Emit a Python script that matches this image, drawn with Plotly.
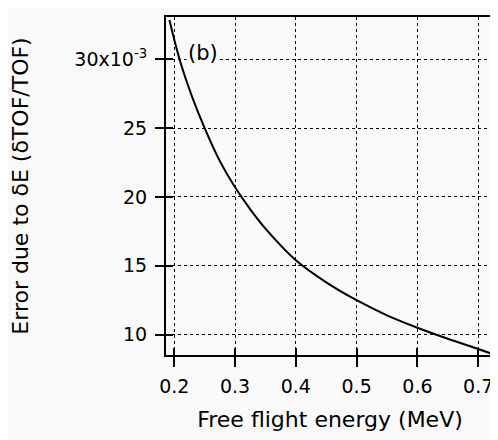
import plotly.graph_objects as go

energy = [0.192, 0.21, 0.23, 0.25, 0.275, 0.30, 0.325, 0.35, 0.40, 0.45, 0.50, 0.55, 0.60, 0.65, 0.70, 0.72]
error = [0.03285, 0.0298, 0.0272, 0.0250, 0.0226, 0.0207, 0.0191, 0.0177, 0.0154, 0.0138, 0.0125, 0.0114, 0.0105, 0.0097, 0.00896, 0.00865]

x_ticks = [0.2, 0.3, 0.4, 0.5, 0.6, 0.7]
x_labels = ["0.2", "0.3", "0.4", "0.5", "0.6", "0.7"]
y_ticks = [0.010, 0.015, 0.020, 0.025, 0.030]
y_labels = ["10", "15", "20", "25", "30x10<sup>-3</sup>"]

xr = [0.1864, 0.726]
yr = [0.00852, 0.03307]
font = dict(family="DejaVu Sans, Arial, sans-serif", size=18, color="black")
tfont = dict(family="DejaVu Sans, Arial, sans-serif", size=19, color="black")

fig = go.Figure()
fig.add_trace(go.Scatter(x=energy, y=error, mode="lines", line=dict(color="black", width=2), line_shape="spline", showlegend=False))
fig.add_trace(go.Scatter(x=[xr[0]], y=[yr[0]], xaxis="x2", yaxis="y2", mode="markers", marker=dict(opacity=0), showlegend=False, hoverinfo="skip"))

fig.update_layout(
    width=490, height=432,
    margin=dict(l=158, r=4, t=9, b=85),
    paper_bgcolor="#f9f9f9", plot_bgcolor="#f9f9f9",
    font=font,
    xaxis=dict(range=xr, tickvals=x_ticks, ticktext=x_labels, ticks="outside", ticklen=10, tickwidth=2, tickcolor="black",
               showline=True, linewidth=2, linecolor="black", mirror=True, automargin=False,
               showgrid=True, gridcolor="black", griddash="dot", gridwidth=1, zeroline=False,
               title=dict(text="Free flight energy (MeV)", standoff=16), tickfont=tfont, ticklabelstandoff=3),
    yaxis=dict(range=yr, tickvals=y_ticks, ticktext=y_labels, ticks="outside", ticklen=9, tickwidth=2, tickcolor="black",
               showline=True, linewidth=2, linecolor="black", mirror=True, automargin=False,
               showgrid=True, gridcolor="black", griddash="dot", gridwidth=1, zeroline=False,
               title=dict(text="Error due to δE (δTOF/TOF)", standoff=40), tickfont=tfont, ticklabelstandoff=4),
    xaxis2=dict(range=xr, overlaying="x", tickvals=x_ticks, ticks="inside", ticklen=7, tickwidth=2, tickcolor="black",
                showticklabels=False, showgrid=False, zeroline=False, showline=False, automargin=False),
    yaxis2=dict(range=yr, overlaying="y", tickvals=y_ticks, ticks="inside", ticklen=7, tickwidth=2, tickcolor="black",
                showticklabels=False, showgrid=False, zeroline=False, showline=False, automargin=False),
    annotations=[dict(x=0.2465, y=0.03045, xref="x", yref="y", text="(b)", showarrow=False,
                      font=dict(family="DejaVu Sans, Arial, sans-serif", size=21, color="black"), bgcolor="#f9f9f9")],
)
fig.write_html("out.html")
